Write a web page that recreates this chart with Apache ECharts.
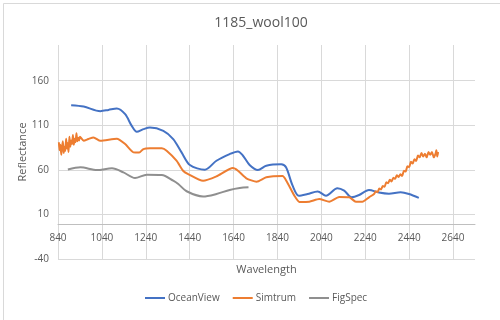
<!DOCTYPE html>
<html>
<head>
<meta charset="utf-8">
<script src="https://cdn.jsdelivr.net/npm/echarts@6/dist/echarts.min.js"></script>
<style>html,body{margin:0;padding:0;background:#fff}#c{width:500px;height:320px}</style>
</head>
<body>
<div id="c"></div>
<script>
var chartTitle = '1185_wool100';
var seriesNames = ['OceanView', 'Simtrum', 'FigSpec'];

var oceanWl = [900, 957, 1033, 1070, 1108, 1146, 1176, 1199, 1229, 1259, 1320, 1365, 1403, 1441, 1509, 1562, 1622, 1660, 1683, 1713, 1751, 1789, 1857, 1879, 1909, 1937, 1977, 2023, 2061, 2113, 2144, 2178, 2212, 2257, 2302, 2348, 2401, 2439, 2484];
var oceanVal = [132.5, 131, 125.8, 127.2, 128.8, 122.4, 109.3, 102.6, 105.6, 107.5, 103.7, 94.5, 79.6, 65.4, 60.1, 70.2, 77.7, 80.7, 75.8, 65.4, 59.8, 64.6, 66.2, 62.8, 42.2, 31, 32.9, 35.7, 31, 39.3, 36.6, 29.2, 31.8, 37.4, 34.6, 33.3, 34.8, 32.9, 28.5];

var simWl = [844, 847, 851, 855, 858, 862, 866, 869, 873, 877, 881, 884, 888, 892, 896, 900, 904, 908, 912, 916, 920, 924, 928, 932, 936, 940, 957, 978, 1002, 1033, 1108, 1146, 1184, 1210, 1229, 1259, 1313, 1335, 1380, 1410, 1433, 1501, 1562, 1637, 1660, 1698, 1745, 1789, 1863, 1881, 1917, 1940, 1985, 2030, 2076, 2121, 2167, 2197, 2227, 2257, 2280, 2288, 2296, 2304, 2312, 2320, 2328, 2336, 2344, 2352, 2360, 2368, 2376, 2384, 2392, 2400, 2408, 2416, 2424, 2432, 2440, 2448, 2456, 2464, 2472, 2480, 2488, 2496, 2504, 2512, 2520, 2528, 2536, 2544, 2552, 2560, 2564, 2568, 2572];
var simVal = [91, 82, 88, 77, 85, 92, 79, 86, 81, 95, 84, 90, 80, 97, 86, 93, 89, 99, 88, 95, 91, 101, 92, 96, 93, 97, 92.6, 94.5, 96.4, 92.6, 95, 88.9, 79.6, 79.4, 83.3, 84.1, 84.1, 81.4, 70.2, 59, 55.3, 47.8, 52.7, 62, 59, 50.5, 46.7, 51.6, 53, 47.5, 31, 24, 24.3, 27.3, 24.3, 29.6, 29.2, 24.3, 24.3, 29.2, 33, 36, 35, 39, 38, 42, 41, 46, 45, 49, 47, 51, 50, 54, 52, 55, 53, 59, 58, 64, 63, 69, 67, 72, 70, 76, 74, 79, 75, 78, 74, 80, 77, 80, 74, 78, 82, 75, 80];

var figWl = [885, 942, 1018, 1086, 1138, 1191, 1245, 1313, 1365, 1388, 1426, 1501, 1562, 1622, 1668, 1708];
var figVal = [60.3, 62.8, 59.8, 61.7, 57.2, 50.8, 54.5, 54.2, 47.8, 44.1, 36, 30.1, 32.9, 37.4, 39.6, 40.4];

function pairs(xs, ys) { return xs.map(function (x, i) { return [x, ys[i]]; }); }

var txt = '#595959';
var fontFam = '"Open Sans", "Liberation Sans", sans-serif';
var chart = echarts.init(document.getElementById('c'), null, { renderer: 'canvas' });
chart.setOption({
  animation: false,
  backgroundColor: '#fff',
  color: ['#4472C4', '#ED7D31', '#8F8F8F'],
  textStyle: { fontFamily: fontFam },
  title: {
    text: chartTitle, left: 256, top: 11, textAlign: 'center',
    textStyle: { fontSize: 14, fontWeight: 'normal', color: txt, fontFamily: fontFam }
  },
  graphic: [{
    type: 'rect', left: 1, top: 1, shape: { width: 497, height: 317 },
    style: { fill: 'none', stroke: '#d9d9d9', lineWidth: 1 }, silent: true
  }],
  grid: { left: 58, right: 25, top: 45, bottom: 61 },
  legend: {
    bottom: 12, left: 140, icon: 'rect', itemWidth: 20, itemHeight: 2, itemGap: 13,
    textStyle: { fontSize: 10, color: txt, fontFamily: fontFam, padding: [0, 0, 0, -2] },
    data: seriesNames
  },
  xAxis: {
    type: 'value', min: 840, max: 2740, interval: 200,
    position: 'bottom', offset: -35,
    name: 'Wavelength', nameLocation: 'middle', nameGap: 40,
    nameTextStyle: { fontSize: 11, color: txt },
    axisLine: { onZero: false, lineStyle: { color: '#bfbfbf' } },
    axisTick: { show: false },
    axisLabel: { color: txt, fontSize: 10, showMaxLabel: false, margin: 9, formatter: function (v) { return String(v); } },
    splitLine: { show: true, showMaxLine: false, lineStyle: { color: '#d9d9d9' } }
  },
  yAxis: {
    type: 'value', min: -40, max: 200, interval: 50,
    name: 'Reflectance', nameLocation: 'middle', nameGap: 30, nameRotate: 90, nameMoveOverlap: false,
    nameTextStyle: { fontSize: 11, color: txt },
    axisLine: { show: false }, axisTick: { show: false },
    axisLabel: { color: txt, fontSize: 10, showMaxLabel: false, margin: 9 },
    splitLine: { show: true, showMaxLine: false, lineStyle: { color: '#d9d9d9' } }
  },
  series: [
    { name: seriesNames[0], type: 'line', data: pairs(oceanWl, oceanVal), showSymbol: false, symbol: 'none', smooth: 0.3, lineStyle: { width: 2 } },
    { name: seriesNames[1], type: 'line', data: pairs(simWl, simVal), showSymbol: false, symbol: 'none', smooth: 0.2, lineStyle: { width: 2 } },
    { name: seriesNames[2], type: 'line', data: pairs(figWl, figVal), showSymbol: false, symbol: 'none', smooth: 0.3, lineStyle: { width: 2 } }
  ]
});
</script>
</body>
</html>
